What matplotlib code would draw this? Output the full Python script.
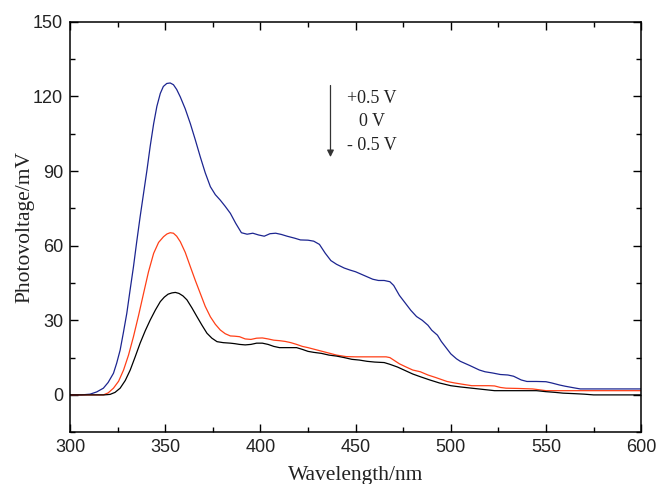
import matplotlib.pyplot as plt
from matplotlib.ticker import MultipleLocator

# wavelength (nm) / photovoltage (mV)
wl_pos = [300, 306, 310.5, 314, 317.5, 320, 322.8, 324.5, 326.3, 328, 329.8, 331.5, 333.3, 335, 336.8, 338.6, 340.4,
          342.1, 343.9, 345.6, 347.4, 349, 350.8, 352.6, 354.3, 356, 357.9, 360.5, 363.2, 365.8, 368.4, 371,
          373.7, 376.3, 378.9, 381.5, 384.2, 387, 390, 393, 396, 399, 402, 405, 408,
          411, 414, 418, 421, 425, 428, 431, 434, 437, 440, 444, 447, 450, 453, 456, 459, 462, 465, 468, 470,
          473, 476, 479, 482, 485, 488, 490, 493, 495, 498, 500, 503, 505, 510, 515, 518, 522, 526, 530, 533,
          537, 540, 545, 550, 553, 557, 560, 565, 568, 600]
pv_pos = [0, 0, 0.3, 1.2, 2.7, 5, 8.7, 12.8, 18, 25, 32.8, 42, 51.5, 61.5, 71.6, 81, 90.4,
          100, 109, 116, 121.2, 124, 125.2, 125.4, 124.7, 122.8, 119.8, 115, 109, 102.5, 95.7, 89.3,
          83.7, 80.5, 78.3, 75.8, 73, 69, 65.2, 64.6, 65, 64.3, 63.8, 64.8, 65,
          64.5, 63.8, 63, 62.3, 62.2, 61.8, 60.5, 57, 54, 52.5, 51, 50.2, 49.5, 48.5, 47.5, 46.5, 46, 46, 45.5, 44,
          40, 37, 34, 31.5, 30, 28, 26, 24, 21.5, 18.5, 16.5, 14.5, 13.5, 11.8, 10, 9.3, 8.8, 8.2, 8, 7.5,
          6, 5.4, 5.4, 5.3, 4.8, 4, 3.5, 2.8, 2.4, 2.4]

wl_zero = [300, 310, 317.5, 320, 322.8, 325.5, 328.1, 330.7, 333.3, 336, 338.6, 341.2, 343.9, 346.5, 349.1, 350.9,
           352.6, 354.3, 356, 357.9, 360.5, 363.2, 365.8, 368.4, 371, 373.7, 376.3, 378.9, 381.5, 384.2, 386.5,
           389, 392, 395, 398, 401, 404, 407, 410, 413, 416,
           419, 422, 425, 430, 435, 440, 445, 450, 455, 460, 466, 468, 470, 473, 476, 480, 484, 488, 492, 495,
           498, 502, 506, 511, 515, 520, 523, 526, 529, 535, 543, 547, 550, 600]
pv_zero = [0, 0, 0, 0.8, 2.7, 5.5, 10, 16, 23.4, 32, 40.8, 49.5, 56.9, 61.3, 63.6, 64.7,
           65.2, 65, 63.8, 61.6, 57.3, 51.5, 46, 40.8, 35.6, 31.4, 28.4, 26.1, 24.6, 23.7, 23.6,
           23.4, 22.5, 22.3, 22.8, 22.9, 22.5, 22, 21.8, 21.5, 21,
           20.3, 19.5, 19, 18, 17, 16, 15.4, 15.3, 15.3, 15.3, 15.3, 15, 14, 12.5, 11.4, 10, 9.3, 8, 7, 6.2,
           5.4, 4.8, 4.3, 3.7, 3.7, 3.7, 3.6, 3, 2.7, 2.6, 2.4, 2, 1.7, 1.7]

wl_neg = [300, 318, 321, 323.6, 326.3, 329, 331.6, 334.2, 336.8, 339.5, 342.1, 344.8, 347.4, 349.5, 351.5, 353.5,
          355.3, 357.2, 359.3, 361.4, 364, 366.7, 369.3, 371.9, 374.5, 377.2, 380.5, 384.2, 386.5,
          389, 392, 395, 398, 401, 404, 407, 410, 413, 416, 419,
          422, 425, 428, 432, 436, 440, 444, 448, 452, 456, 460, 465, 468, 472, 476, 480, 484, 489, 494, 500,
          505, 511, 517, 523, 540, 545, 550, 555, 559, 565, 570, 575, 600]
pv_neg = [0, 0, 0.2, 1, 2.7, 5.8, 10, 15.3, 20.8, 25.8, 30.1, 34.1, 37.5, 39.3, 40.5, 41,
          41.2, 40.8, 39.8, 38.2, 35, 31.4, 28, 24.8, 22.8, 21.4, 21, 20.8, 20.6,
          20.3, 20.1, 20.3, 20.8, 20.8, 20.3, 19.5, 19, 19, 19, 19,
          18.3, 17.5, 17.1, 16.7, 16, 15.6, 15, 14.3, 14, 13.5, 13.2, 13, 12.3, 11.2, 9.8, 8.4, 7.3, 6, 4.8, 3.7,
          3.2, 2.7, 2.2, 1.7, 1.7, 1.7, 1.3, 1, 0.7, 0.5, 0.3, 0, 0]

labels = ['+0.5 V', '0 V', '- 0.5 V']

fig = plt.figure(figsize=(6.61, 4.84), dpi=100)
ax = fig.add_axes([0.106, 0.107, 0.864, 0.848])

ax.plot(wl_pos, pv_pos, color='#1c2590', lw=0.9)
ax.plot(wl_zero, pv_zero, color='#ff3f17', lw=0.9)
ax.plot(wl_neg, pv_neg, color='black', lw=0.9)

ax.set_xlim(300, 600)
ax.set_ylim(-15, 150)
ax.xaxis.set_major_locator(MultipleLocator(50))
ax.xaxis.set_minor_locator(MultipleLocator(25))
ax.yaxis.set_major_locator(MultipleLocator(30))
ax.yaxis.set_minor_locator(MultipleLocator(15))
ax.tick_params(which='both', direction='in', top=True, right=True, labelsize=13, pad=5)
ax.tick_params(which='major', length=6, width=1)
ax.tick_params(which='minor', length=3.5, width=1)
for lab in ax.get_xticklabels() + ax.get_yticklabels():
    lab.set_family('Liberation Sans')
    lab.set_color('#222222')
for s in ax.spines.values():
    s.set_linewidth(1.1)

ax.set_xlabel('Wavelength/nm', family='Liberation Serif', fontsize=15.5, labelpad=7, color='#222222')
ax.set_ylabel('Photovoltage/mV', family='Liberation Serif', fontsize=15.5, labelpad=-1, color='#222222')

# annotation arrow and voltage labels
ax.annotate('', xy=(436.8, 94.5), xytext=(436.8, 125.5),
            arrowprops=dict(arrowstyle='-|>', color='#333333', lw=0.9, mutation_scale=10))
for lab, yv in zip(labels, [119.1, 109.8, 100.4]):
    ax.text(458.5, yv, lab, family='Liberation Serif', fontsize=13,
            ha='center', va='center', color='#222222')

fig.savefig('out.png')
